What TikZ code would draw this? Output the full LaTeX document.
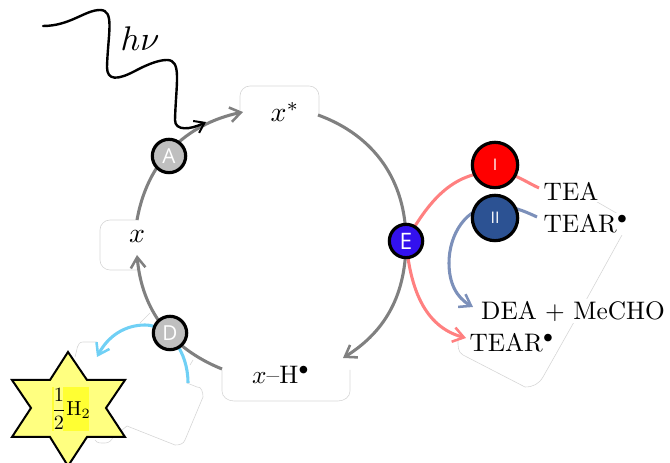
\documentclass[tikz,border=0pt]{standalone}
\usetikzlibrary{arrows.meta}
\usepackage{fontspec}
\newfontfamily\badgefont{Open Sans}
\definecolor{arcgray}{RGB}{128,128,128}
\definecolor{tiered}{RGB}{255,128,128}
\definecolor{tieblue}{RGB}{124,144,186}
\definecolor{tiecyan}{RGB}{112,208,245}
\definecolor{paleyellow}{RGB}{255,255,128}
\definecolor{hiyellow}{RGB}{255,255,51}
\definecolor{faint}{RGB}{214,214,214}
\tikzset{
  lab/.style={inner sep=0pt,scale=1.9,transform shape},
  whitelab/.style={lab,fill=white,inner sep=.6pt},
  badge/.style={circle,draw=black,line width=2.4pt,minimum size=#1,inner sep=0pt,text=white},
  ghost/.style={draw=faint,line width=.45pt},
  link/.style={line width=2.3pt,-{Straight Barb[length=8pt,width=11pt,line width=1.9pt]}},
  plain/.style={line width=2.3pt},
}
\begin{document}
\begin{tikzpicture}[x=.75pt,y=.75pt]
\useasboundingbox (0,0) rectangle (670,463);
% faint backing outlines
\path[ghost] (592,264) -- (618,249) -- (628,243) -- (622,228) -- (574,141) -- (543,86)
  to[out=240,in=0] (525,76) -- (463,108) to[out=150,in=270] (458,123);
\path[ghost] (75,106) to[out=70,in=180] (83,121) -- (97,121);
\path[ghost] (140,140) -- (150,150);
\path[ghost] (190,98) -- (193,103);
\path[ghost] (187,80) -- (197,76) to[out=10,in=90] (203,66) -- (185,23) to[out=250,in=0] (175,18) -- (127,37) -- (113,26)
  to[out=250,in=0] (105,20) to[out=180,in=300] (95,23);
\path[ghost] (137,243) -- (110,243) to[out=180,in=90] (100,233) -- (100,203)
  to[out=270,in=180] (110,193) -- (137,193);
\path[ghost] (240,353) -- (240,367) to[out=90,in=180] (250,377) -- (309,377)
  to[out=0,in=90] (319,367) -- (319,348);
\path[ghost] (222,93) -- (222,72) to[out=270,in=180] (234,62) -- (338,62)
  to[out=0,in=270] (350,72) -- (350,93);
% text boxes
\node[lab,scale=1.1] (xs) at (285,351) {$x^*$};
\node[lab,scale=1.1] (xn) at (137,226) {$x$};
\node[lab] (xh) at (281,88) {$x$--H$^\bullet$};
\node[whitelab] (tea) at (571,272) {TEA};
\node[whitelab] (tearu) at (586,239) {TEAR$^\bullet$};
\node[whitelab] (dea) at (573,152) {DEA + MeCHO};
\node[whitelab] (tearl) at (512,120) {TEAR$^\bullet$};
\node[lab,scale=1.35] (hv) at (140,424) {$h\nu$};
% anchors for the arcs
\coordinate (xtop) at (137,243);
\coordinate (xbot) at (137,208);
\coordinate (xsl) at (243,351);
\coordinate (xsr) at (318,348);
\coordinate (xhl) at (222,94);
\coordinate (xhr) at (343,105);
\coordinate (teaend) at (539,275);
\coordinate (redtop) at (495,291);
\coordinate (tearend) at (537,246);
\coordinate (bluetop) at (495,257);
\coordinate (blueleft) at (449,200);
\coordinate (deaend) at (473,156);
\coordinate (tearlend) at (466,125);
\coordinate (starend) at (97,106);
\coordinate (cyantop) at (145,138);
\coordinate (wstart) at (43,437);
\coordinate (cstart) at (188,80);
\coordinate (wend) at (206,341);
% badge positions
\coordinate (Ap) at (169,307);
\coordinate (Dp) at (170,130);
\coordinate (Ep) at (406,222);
\coordinate (Ip) at (495,298);
\coordinate (IIp) at (495,245);
% arcs
\draw[link,arcgray] (xtop) to[out=80,in=192] (xsl);
\draw[plain,arcgray] (xsr) to[out=-20,in=90] (Ep);
\draw[link,arcgray] (Ep) to[out=-90,in=32] (xhr);
\draw[link,arcgray] (xhl) to[out=158,in=-85] (xbot);
\draw[plain,tiered] (teaend) to[out=155,in=0] (redtop) to[out=180,in=60] (Ep);
\draw[link,tiered] (Ep) to[out=-85,in=165] (tearlend);
\draw[plain,tieblue] (tearend) to[out=155,in=0] (bluetop) to[out=180,in=90] (blueleft);
\draw[link,tieblue] (blueleft) to[out=-90,in=150] (deaend);
\draw[link,tiecyan] (cstart) .. controls (188,112) and (168,138) .. (cyantop)
  .. controls (125,138) and (108,127) .. (starend);
\draw[line width=1.8pt,black,line cap=round,-{Straight Barb[length=7pt,width=10pt,line width=1.5pt]}] (wstart)
  .. controls (70,437) and (85,453) .. (100,453)
  .. controls (115,453) and (108,430) .. (107,396)
  .. controls (107,382) and (118,383) .. (135,392)
  .. controls (150,400) and (160,403) .. (167,403)
  .. controls (182,403) and (176,380) .. (175,343)
  .. controls (175,332) and (190,333) .. (wend);
% badges
\node[badge=25pt,fill=gray!50] (A) at (Ap) {\badgefont\fontsize{15.5}{18}\selectfont A};
\node[badge=25pt,fill=gray!50] (D) at (Dp) {\badgefont\fontsize{15.5}{18}\selectfont D};
\node[badge=25pt,fill={rgb,255:red,51;green,17;blue,238}] (E) at (Ep) {\badgefont\fontsize{17}{18}\selectfont E};
\node[badge=34pt,fill=red] (I) at (Ip) {\badgefont\fontsize{12}{12}\selectfont I};
\node[badge=34pt,fill={rgb,255:red,44;green,82;blue,147}] (II) at (IIp) {\badgefont\fontsize{12}{12}\selectfont II};
% star
\path[fill=paleyellow,draw=black,line width=1.5pt,line join=miter]
  (68,111) -- (87,83) -- (125,83) -- (106,55) -- (125,26) -- (87,26) -- (68,-3) -- (50,26) -- (12,26)
  -- (31,55) -- (12,83) -- (50,83) -- cycle;
\fill[hiyellow] (52,32) rectangle (54,76);
\fill[hiyellow] (63,32) rectangle (89,76);
\node[lab,scale=.8] (h2) at (71,54) {$\displaystyle\frac{1}{2}\mathrm{H}_2$};
\end{tikzpicture}
\end{document}
